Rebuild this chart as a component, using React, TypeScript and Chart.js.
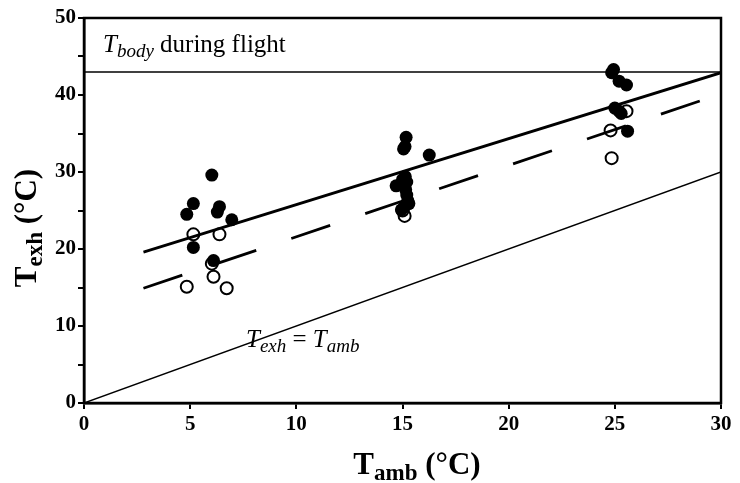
import React, { useEffect, useRef } from 'react';
import { Chart, registerables } from 'chart.js';

Chart.register(...registerables);

// Filled circles (Texh vs Tamb)
const filledX = [6.02, 5.15, 4.84, 6.38, 6.28, 6.96, 5.15, 6.1,
  15.17, 15.12, 15.05, 16.26, 14.7, 15.13, 15.0, 15.2, 15.15, 15.2, 15.25, 15.3, 15.1, 14.95,
  24.94, 24.85, 25.2, 25.55, 25.0, 25.2, 25.3, 25.6];
const filledY = [29.6, 25.9, 24.5, 25.5, 24.8, 23.8, 20.2, 18.5,
  34.5, 33.3, 33.0, 32.2, 28.2, 29.4, 29.0, 28.7, 27.7, 27.0, 26.3, 25.9, 25.5, 25.1,
  43.3, 42.9, 41.8, 41.3, 38.3, 37.9, 37.6, 35.3];

// Open circles
const openX = [5.15, 6.38, 6.02, 6.1, 4.84, 6.72, 15.0, 15.1, 24.8, 25.55, 24.85];
const openY = [21.9, 21.9, 18.1, 16.4, 15.1, 14.9, 25.0, 24.3, 35.4, 37.9, 31.8];

// Reference / fitted lines
const tbodyX = [0, 30];
const tbodyY = [43, 43];
const identityX = [0, 30];
const identityY = [0, 30];
const solidFitX = [2.8, 30];
const solidFitY = [19.6, 42.9];
const dashedFitX = [2.8, 29.3];
const dashedFitY = [14.9, 39.5];

const xTickValues = [0, 5, 10, 15, 20, 25, 30];
const yTickValues = [0, 10, 20, 30, 40, 50];

const SERIF = "'Liberation Serif', 'Times New Roman', serif";

const toPts = (xs: number[], ys: number[]) => xs.map((x, i) => ({ x, y: ys[i] }));

type Part = { t: string; font: string; dy?: number };

function drawParts(ctx: CanvasRenderingContext2D, parts: Part[], x: number, y: number, align: 'left' | 'center') {
  let total = 0;
  for (const p of parts) {
    ctx.font = p.font;
    total += ctx.measureText(p.t).width;
  }
  let cx = align === 'center' ? x - total / 2 : x;
  ctx.textAlign = 'left';
  ctx.textBaseline = 'alphabetic';
  for (const p of parts) {
    ctx.font = p.font;
    ctx.fillText(p.t, cx, y + (p.dy || 0));
    cx += ctx.measureText(p.t).width;
  }
}

const textPlugin = {
  id: 'customTexts',
  afterDraw(chart: any) {
    const ctx: CanvasRenderingContext2D = chart.ctx;
    const { left, right, top, bottom } = chart.chartArea;
    ctx.save();
    ctx.strokeStyle = '#000';
    ctx.lineWidth = 2.5;
    ctx.strokeRect(left, top, right - left, bottom - top);
    ctx.fillStyle = '#000';

    // Annotation: T_body during flight
    drawParts(ctx, [
      { t: 'T', font: `italic 25px ${SERIF}` },
      { t: 'body', font: `italic 19px ${SERIF}`, dy: 5 },
      { t: ' during flight', font: `25px ${SERIF}` },
    ], 103, 52, 'left');

    // Annotation: T_exh = T_amb
    drawParts(ctx, [
      { t: 'T', font: `italic 25px ${SERIF}` },
      { t: 'exh', font: `italic 19px ${SERIF}`, dy: 5 },
      { t: ' = ', font: `25px ${SERIF}` },
      { t: 'T', font: `italic 25px ${SERIF}` },
      { t: 'amb', font: `italic 19px ${SERIF}`, dy: 5 },
    ], 246, 347, 'left');

    // X axis title
    drawParts(ctx, [
      { t: 'T', font: `bold 31px ${SERIF}` },
      { t: 'amb', font: `bold 23px ${SERIF}`, dy: 6 },
      { t: ' (°C)', font: `bold 31px ${SERIF}` },
    ], 417, 474, 'center');

    // Y axis title (rotated)
    ctx.save();
    ctx.translate(36, 228);
    ctx.rotate(-Math.PI / 2);
    drawParts(ctx, [
      { t: 'T', font: `bold 31px ${SERIF}` },
      { t: 'exh', font: `bold 23px ${SERIF}`, dy: 6 },
      { t: ' (°C)', font: `bold 31px ${SERIF}` },
    ], 0, 0, 'center');
    ctx.restore();

    ctx.restore();
  },
};

export default function App() {
  const ref = useRef<HTMLCanvasElement | null>(null);

  useEffect(() => {
    if (!ref.current) return;
    const chart = new Chart(ref.current, {
      type: 'scatter',
      data: {
        datasets: [
          {
            label: 'filled',
            data: toPts(filledX, filledY),
            pointRadius: 6.5,
            pointBackgroundColor: '#000',
            pointBorderColor: '#000',
            pointBorderWidth: 0,
            showLine: false,
          },
          {
            label: 'open',
            data: toPts(openX, openY),
            pointRadius: 6,
            pointBackgroundColor: 'rgba(0,0,0,0)',
            pointBorderColor: '#000',
            pointBorderWidth: 2,
            showLine: false,
          },
          {
            label: 'solid fit',
            data: toPts(solidFitX, solidFitY),
            showLine: true,
            borderColor: '#000',
            borderWidth: 2.8,
            pointRadius: 0,
          },
          {
            label: 'dashed fit',
            data: toPts(dashedFitX, dashedFitY),
            showLine: true,
            borderColor: '#000',
            borderWidth: 2.8,
            borderDash: [41, 37],
            pointRadius: 0,
          },
          {
            label: 'Tbody',
            data: toPts(tbodyX, tbodyY),
            showLine: true,
            borderColor: '#000',
            borderWidth: 1.5,
            pointRadius: 0,
          },
          {
            label: 'identity',
            data: toPts(identityX, identityY),
            showLine: true,
            borderColor: '#000',
            borderWidth: 1.5,
            pointRadius: 0,
          },
        ],
      },
      options: {
        responsive: false,
        animation: false,
        layout: { padding: { top: 18, right: 19, left: 0, bottom: 0 } },
        plugins: {
          legend: { display: false },
          tooltip: { enabled: false },
        },
        scales: {
          x: {
            type: 'linear',
            min: 0,
            max: 30,
            afterFit: (s: any) => { s.height = 80; },
            afterBuildTicks: (s: any) => { s.ticks = xTickValues.map((v) => ({ value: v })); },
            ticks: {
              color: '#000',
              font: { family: SERIF, size: 21, weight: 'bold' },
              padding: 3,
              maxRotation: 0,
            },
            grid: { drawOnChartArea: false, drawTicks: true, tickLength: 6, color: '#000', lineWidth: 2 },
            border: { display: true, color: '#000', width: 2.5 },
          },
          y: {
            type: 'linear',
            min: 0,
            max: 50,
            afterFit: (s: any) => { s.width = 84; },
            afterBuildTicks: (s: any) => {
              const arr: { value: number }[] = [];
              for (let v = 0; v <= 50; v += 5) arr.push({ value: v });
              s.ticks = arr;
            },
            ticks: {
              color: '#000',
              font: { family: SERIF, size: 21, weight: 'bold' },
              padding: 2,
              callback: (v: any) => (yTickValues.includes(Number(v)) ? String(v) : ''),
            },
            grid: { drawOnChartArea: false, drawTicks: true, tickLength: 6, color: '#000', lineWidth: 2 },
            border: { display: true, color: '#000', width: 2.5 },
          },
        },
      },
      plugins: [textPlugin],
    });
    return () => chart.destroy();
  }, []);

  return (
    <div style={{ position: 'absolute', left: 0, top: 0, width: 740, height: 483, background: '#fff' }}>
      <canvas ref={ref} width={740} height={483} style={{ display: 'block' }} />
    </div>
  );
}
